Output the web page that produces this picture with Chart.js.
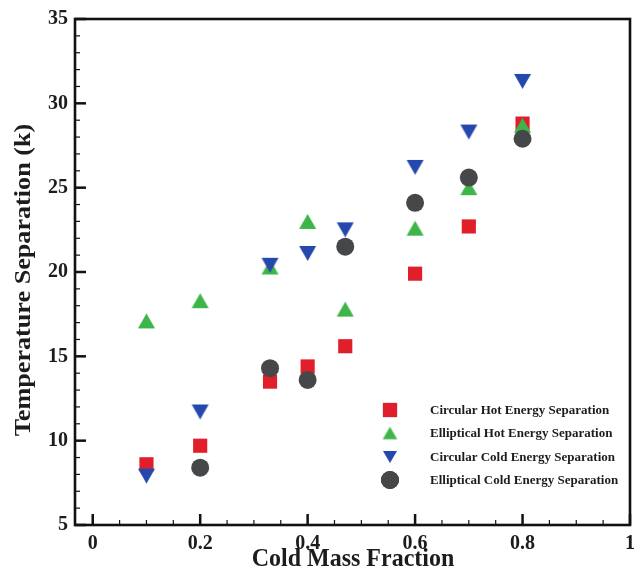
<!DOCTYPE html>
<html>
<head>
<meta charset="utf-8">
<script src="https://cdn.jsdelivr.net/npm/chart.js@4/dist/chart.umd.min.js"></script>
<style>
  html, body { margin: 0; padding: 0; background: #fff; }
  #wrap { width: 642px; height: 574px; }
</style>
</head>
<body>
<div id="wrap"><canvas id="c" width="642" height="574"></canvas></div>
<script>
// Cold mass fraction values at which each configuration was evaluated
const coldMassFraction = [0.1, 0.2, 0.33, 0.4, 0.47, 0.6, 0.7, 0.8];
const coldMassFractionEllipticalCold = [0.2, 0.33, 0.4, 0.47, 0.6, 0.7, 0.8];

// Temperature separation (k) for each series
const circularHot = [8.6, 9.7, 13.5, 14.4, 15.6, 19.9, 22.7, 28.8];
const ellipticalHot = [17.1, 18.3, 20.3, 23.0, 17.8, 22.6, 25.0, 28.7];
const circularCold = [7.9, 11.7, 20.4, 21.1, 22.5, 26.2, 28.3, 31.3];
const ellipticalCold = [8.4, 14.3, 13.6, 21.5, 24.1, 25.6, 27.9];

const seriesNames = [
  'Circular Hot Energy Separation',
  'Elliptical Hot Energy Separation',
  'Circular Cold Energy Separation',
  'Elliptical Cold Energy Separation'
];

const xTickValues = [0, 0.2, 0.4, 0.6, 0.8, 1];
const yTickValues = [5, 10, 15, 20, 25, 30, 35];

const xTitle = 'Cold Mass Fraction';
const yTitle = 'Temperature Separation (k)';

const SERIF = "'Liberation Serif', 'Times New Roman', serif";
const TEXT_COLOR = '#1c1c1c';
const STRETCH = 1.09; // glyphs are drawn slightly taller than wide

const colors = ['#e01f2b', '#3db548', '#2548ad', '#464749'];

// Triangle markers centred on their bounding box
function triangleImage(w, h, color, down) {
  const c = document.createElement('canvas');
  c.width = Math.ceil(w) + 2;
  c.height = Math.ceil(h) + 2;
  const g = c.getContext('2d');
  const cx = c.width / 2, cy = c.height / 2;
  g.fillStyle = color;
  g.beginPath();
  if (down) {
    g.moveTo(cx - w / 2, cy - h / 2);
    g.lineTo(cx + w / 2, cy - h / 2);
    g.lineTo(cx, cy + h / 2);
  } else {
    g.moveTo(cx - w / 2, cy + h / 2);
    g.lineTo(cx + w / 2, cy + h / 2);
    g.lineTo(cx, cy - h / 2);
  }
  g.closePath();
  g.fill();
  return c;
}

const markers = [
  { style: 'rect', radius: 10 },
  { style: triangleImage(17, 15, colors[1], false), radius: 9, legend: triangleImage(14.5, 12.5, colors[1], false) },
  { style: triangleImage(17, 15, colors[2], true), radius: 9, legend: triangleImage(14, 12, colors[2], true) },
  { style: 'circle', radius: 9 }
];

function toPoints(xs, ys) {
  return ys.map((y, i) => ({ x: xs[i], y: y }));
}

const seriesData = [
  toPoints(coldMassFraction, circularHot),
  toPoints(coldMassFraction, ellipticalHot),
  toPoints(coldMassFraction, circularCold),
  toPoints(coldMassFractionEllipticalCold, ellipticalCold)
];

const datasets = seriesData.map((d, i) => ({
  label: seriesNames[i],
  data: d,
  showLine: false,
  pointStyle: markers[i].style,
  pointRadius: markers[i].radius,
  pointHoverRadius: markers[i].radius,
  pointBackgroundColor: colors[i],
  pointBorderColor: colors[i],
  pointBorderWidth: 0,
  order: 4 - i
}));

function stretchedText(ctx, text, x, y, rotate) {
  ctx.save();
  ctx.translate(x, y);
  ctx.scale(1, STRETCH);
  if (rotate) ctx.rotate(-Math.PI / 2);
  ctx.fillText(text, 0, 0);
  ctx.restore();
}

// Frame, inward major/minor ticks, axis titles and the in-plot legend
const framePlugin = {
  id: 'frame',
  afterDraw(chart) {
    const { ctx, chartArea: a, scales } = chart;
    const xs = scales.x, ys = scales.y;
    ctx.save();
    ctx.strokeStyle = '#111';
    ctx.lineCap = 'butt';

    // minor/major ticks along the bottom axis, pointing into the plot
    for (let k = 0; k <= 20; k++) {
      const v = k * 0.05;
      const px = xs.getPixelForValue(v);
      const major = k % 4 === 0;
      ctx.lineWidth = major ? 2.5 : 1.2;
      ctx.beginPath();
      ctx.moveTo(px, a.bottom);
      ctx.lineTo(px, a.bottom - (major ? 11 : 5));
      ctx.stroke();
    }
    // minor/major ticks along the left axis
    for (let v = 5; v <= 35; v++) {
      const py = ys.getPixelForValue(v);
      const major = v % 5 === 0;
      ctx.lineWidth = major ? 2.5 : 1.2;
      ctx.beginPath();
      ctx.moveTo(a.left, py);
      ctx.lineTo(a.left + (major ? 11 : 5), py);
      ctx.stroke();
    }

    // plot frame
    ctx.lineWidth = 2.6;
    ctx.strokeRect(a.left, a.top, a.right - a.left, a.bottom - a.top);

    // axis titles
    ctx.fillStyle = TEXT_COLOR;
    ctx.font = 'bold 24px ' + SERIF;
    ctx.textAlign = 'center';
    ctx.textBaseline = 'alphabetic';
    stretchedText(ctx, xTitle, 353, 566, false);
    stretchedText(ctx, yTitle, 30, 280, true);

    // legend
    const rowY = [410, 433, 457, 480];
    const markX = 390, textX = 430;
    ctx.font = 'bold 13px ' + SERIF;
    ctx.textBaseline = 'middle';
    ctx.textAlign = 'left';
    chart.data.datasets.forEach((ds, i) => {
      const m = markers[i];
      if (m.legend) {
        ctx.drawImage(m.legend, markX - m.legend.width / 2, rowY[i] - m.legend.height / 2);
      } else {
        Chart.helpers.drawPoint(ctx, {
          pointStyle: m.style,
          rotation: 0,
          radius: m.radius,
          borderWidth: 0
        }, markX, rowY[i]);
        ctx.fillStyle = ds.pointBackgroundColor;
        ctx.fill();
      }
      ctx.fillStyle = TEXT_COLOR;
      ctx.fillText(ds.label, textX, rowY[i] + 1);
    });
    ctx.restore();
  }
};

new Chart(document.getElementById('c'), {
  type: 'scatter',
  data: { datasets },
  options: {
    responsive: false,
    animation: false,
    devicePixelRatio: 1,
    layout: { padding: { top: 16, right: 9, left: 0, bottom: 0 } },
    plugins: { legend: { display: false }, tooltip: { enabled: false } },
    scales: {
      x: {
        type: 'linear',
        min: -0.033,
        max: 1,
        afterFit(scale) { scale.height = 49; },
        afterBuildTicks(scale) { scale.ticks = xTickValues.map(v => ({ value: v })); },
        grid: { display: false, drawTicks: false },
        border: { display: false },
        ticks: {
          padding: 7,
          color: TEXT_COLOR,
          font: { family: SERIF, size: 20, weight: 'bold' },
          callback: v => String(v)
        }
      },
      y: {
        type: 'linear',
        min: 5,
        max: 35,
        afterFit(scale) { scale.width = 75; },
        afterBuildTicks(scale) { scale.ticks = yTickValues.map(v => ({ value: v })); },
        grid: { display: false, drawTicks: false },
        border: { display: false },
        ticks: {
          padding: 7,
          color: TEXT_COLOR,
          font: { family: SERIF, size: 20, weight: 'bold' },
          callback: v => String(v)
        }
      }
    }
  },
  plugins: [framePlugin]
});
</script>
</body>
</html>
